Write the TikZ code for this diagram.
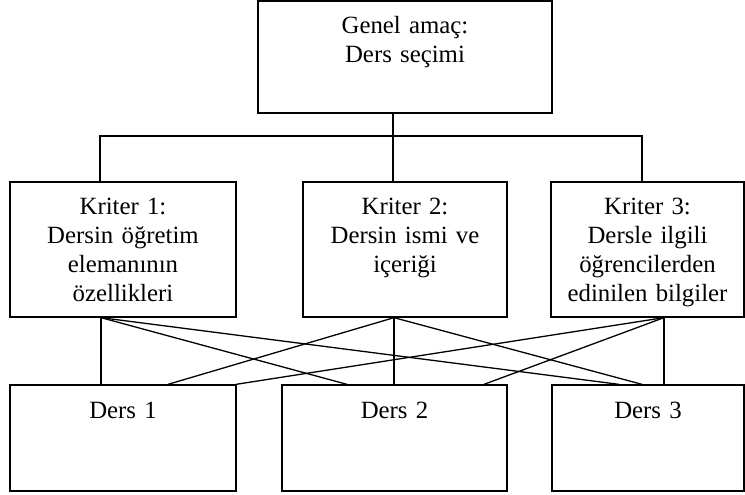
\documentclass[tikz,border=0pt]{standalone}
\usepackage{fontspec}
\setmainfont{Liberation Serif}
\begin{document}
\begin{tikzpicture}[x=1pt,y=-1pt,
  box/.style={draw,line width=1.3pt,rectangle,inner sep=0pt},
  txt/.style={inner sep=0pt,anchor=base,align=center,font=\fontsize{24.8}{29.2}\selectfont},
  conn/.style={line width=1.3pt}]
\useasboundingbox (0,0) rectangle (745,495);
% boxes
\node[box,minimum width=294pt,minimum height=112pt] (goal) at (405,57) {};
\node[box,minimum width=226pt,minimum height=135pt] (k1) at (123,249.5) {};
\node[box,minimum width=204pt,minimum height=135pt] (k2) at (405,249.5) {};
\node[box,minimum width=193pt,minimum height=135pt] (k3) at (647.5,249.5) {};
\node[box,minimum width=226pt,minimum height=106pt] (d1) at (123,438) {};
\node[box,minimum width=225pt,minimum height=106pt] (d2) at (394.5,438) {};
\node[box,minimum width=192pt,minimum height=106pt] (d3) at (648,438) {};
% texts
\node[txt,text width=280pt] (goaltxt) at (405,33.5) {Genel amaç:\\Ders seçimi};
\node[txt,text width=220pt] (k1txt) at (123,214) {Kriter 1:\\Dersin öğretim\\elemanının\\özellikleri};
\node[txt,text width=200pt] (k2txt) at (405,214) {Kriter 2:\\Dersin ismi ve\\içeriği};
\node[txt,text width=190pt] (k3txt) at (647.5,214) {Kriter 3:\\Dersle ilgili\\öğrencilerden\\edinilen bilgiler};
\node[txt,text width=200pt] (d1txt) at (123,418) {Ders 1};
\node[txt,text width=200pt] (d2txt) at (394.5,418) {Ders 2};
\node[txt,text width=190pt] (d3txt) at (648,418) {Ders 3};
% connection points
\coordinate (barY) at (0,136);
\coordinate (gj) at ([xshift=-12pt]goal.south);
\coordinate (k1t) at ([xshift=-23pt]k1.north);
\coordinate (k2t) at ([xshift=-12pt]k2.north);
\coordinate (k3t) at ([xshift=-5.5pt]k3.north);
\coordinate (k1b) at ([xshift=-22pt]k1.south);
\coordinate (k2b) at ([xshift=-11pt]k2.south);
\coordinate (k3b) at ([xshift=16.5pt]k3.south);
\coordinate (d1a) at ([xshift=-22pt]d1.north);
\coordinate (d1b) at ([xshift=45pt]d1.north);
\coordinate (d1c) at ([xshift=113pt]d1.north);
\coordinate (d2a) at ([xshift=-47.5pt]d2.north);
\coordinate (d2b) at ([xshift=-0.5pt]d2.north);
\coordinate (d2c) at ([xshift=89.5pt]d2.north);
\coordinate (d3a) at ([xshift=-29pt]d3.north);
\coordinate (d3b) at ([xshift=-6pt]d3.north);
\coordinate (d3c) at ([xshift=16pt]d3.north);
% hierarchy connectors
\draw[conn] (gj) -- (gj |- barY);
\draw[conn] (k1t) -- (k1t |- barY) -- (k3t |- barY) -- (k3t);
\draw[conn] (k2t) -- (k2t |- barY);
% criteria to courses
\draw[conn] (k1b) -- (d1a);
\draw[conn] (k1b) -- (d2a);
\draw[conn] (k1b) -- (d3a);
\draw[conn] (k2b) -- (d1b);
\draw[conn] (k2b) -- (d2b);
\draw[conn] (k2b) -- (d3b);
\draw[conn] (k3b) -- (d1c);
\draw[conn] (k3b) -- (d2c);
\draw[conn] (k3b) -- (d3c);
\end{tikzpicture}
\end{document}
